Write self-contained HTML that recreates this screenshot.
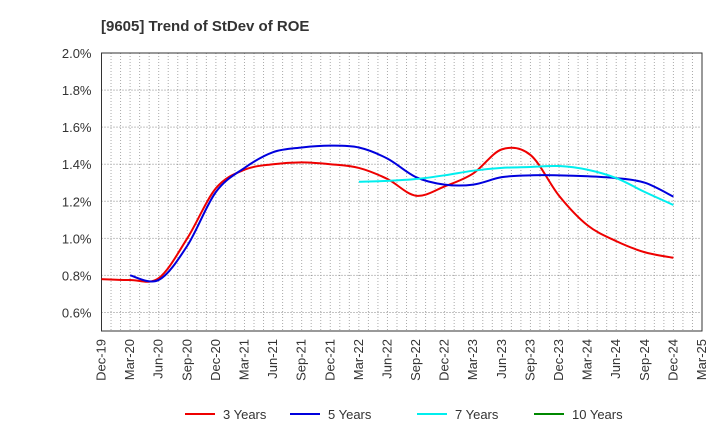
<!DOCTYPE html>
<html><head><meta charset="utf-8"><style>
body{margin:0;background:#fff;font-family:"Liberation Sans",sans-serif}
</style></head><body>
<svg id="c" width="720" height="440" xmlns="http://www.w3.org/2000/svg">
<text x="101" y="31" font-size="15" font-weight="bold" fill="#333">[9605]  Trend of StDev of ROE</text>
<g id="grid"></g><g id="axes"></g><g id="series"></g><g id="legend"></g>
</svg>
<script>
const quarters=["Dec-19","Mar-20","Jun-20","Sep-20","Dec-20","Mar-21","Jun-21","Sep-21","Dec-21","Mar-22","Jun-22","Sep-22","Dec-22","Mar-23","Jun-23","Sep-23","Dec-23","Mar-24","Jun-24","Sep-24","Dec-24","Mar-25"];
const yTicks=[0.6,0.8,1.0,1.2,1.4,1.6,1.8,2.0];
const seriesNames=["3 Years","5 Years","7 Years","10 Years"];
const seriesColors=["#ee0000","#0000dd","#00eeee","#008800"];
const s3=[0.78,0.775,0.785,1.0,1.27,1.37,1.40,1.41,1.40,1.38,1.32,1.23,1.28,1.35,1.48,1.45,1.23,1.07,0.985,0.925,0.895];
const s5=[null,0.80,0.775,0.96,1.25,1.38,1.465,1.49,1.50,1.49,1.43,1.33,1.29,1.29,1.33,1.34,1.34,1.335,1.325,1.30,1.225];
const s7=[null,null,null,null,null,null,null,null,null,1.305,1.31,1.32,1.34,1.365,1.38,1.385,1.39,1.37,1.325,1.25,1.18];
const s10=[];
const NS="http://www.w3.org/2000/svg";
const L=101.5,R=702,T=53,B=331,ymin=0.5,ymax=2.0;
const xq=i=>L+i*(R-L)/(quarters.length-1);
const yv=v=>B-(v-ymin)/(ymax-ymin)*(B-T);
function mk(tag,at,parent){const e=document.createElementNS(NS,tag);for(const k in at)e.setAttribute(k,at[k]);parent.appendChild(e);return e;}
const grid=document.getElementById('grid'),axes=document.getElementById('axes'),ser=document.getElementById('series'),leg=document.getElementById('legend');
for(let m=1;m<(quarters.length-1)*3;m++){const x=L+m*(R-L)/((quarters.length-1)*3);
const g=mk('line',{x1:x,x2:x,y1:T,y2:B,stroke:'#aaa','stroke-dasharray':'1,2','stroke-width':1},grid);

}
yTicks.forEach(v=>{const g=mk('line',{x1:L,x2:R,y1:yv(v),y2:yv(v),stroke:'#888','stroke-dasharray':'1,2'},grid);


const t=mk('text',{x:L-10,y:yv(v)+5,'text-anchor':'end','font-size':13,fill:'#333'},axes);t.textContent=v.toFixed(1)+'%';

});
const fr=mk('rect',{x:L,y:T,width:R-L,height:B-T,fill:'none',stroke:'#333','stroke-width':1},axes);


quarters.forEach((q,i)=>{const x=xq(i);const t=mk('text',{transform:`translate(${x+4},${B+8}) rotate(-90)`,'text-anchor':'end','font-size':13,fill:'#333'},axes);t.textContent=q;

});
function path(arr){const p=[];arr.forEach((v,i)=>{if(v!=null)p.push([xq(i),yv(v)]);});if(p.length<2)return '';
let d=`M${p[0][0]},${p[0][1]}`;for(let i=0;i<p.length-1;i++){const p0=p[i-1]||p[i],p1=p[i],p2=p[i+1],p3=p[i+2]||p2;
d+=` C${p1[0]+(p2[0]-p0[0])/6},${p1[1]+(p2[1]-p0[1])/6} ${p2[0]-(p3[0]-p1[0])/6},${p2[1]-(p3[1]-p1[1])/6} ${p2[0]},${p2[1]}`;}return d;}
[s3,s5,s7,s10].forEach((s,k)=>{const d=path(s);if(!d)return;const e=mk('path',{d:d,fill:'none',stroke:seriesColors[k],'stroke-width':2},ser);

});
const lx=[185,290,417,534];
seriesNames.forEach((n,k)=>{const l=mk('line',{x1:lx[k],x2:lx[k]+30,y1:414,y2:414,stroke:seriesColors[k],'stroke-width':2},leg);


const t=mk('text',{x:lx[k]+38,y:419,'font-size':13,fill:'#333'},leg);t.textContent=n;

});
</script>
</body></html>
